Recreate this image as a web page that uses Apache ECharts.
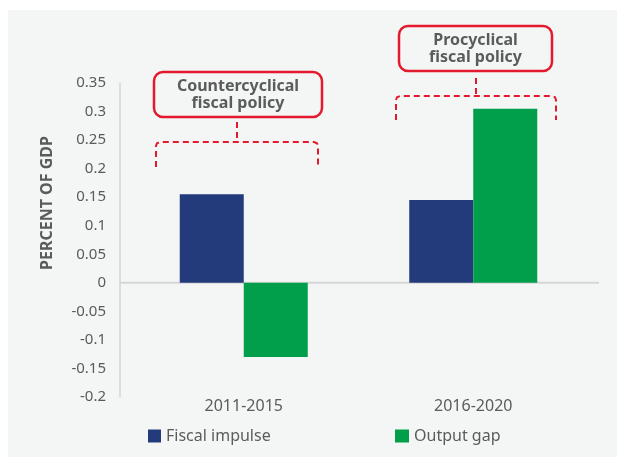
<!DOCTYPE html>
<html>
<head>
<meta charset="utf-8">
<script src="https://cdn.jsdelivr.net/npm/echarts@6/dist/echarts.min.js"></script>
<style>
  html, body { margin: 0; padding: 0; background: #ffffff; }
  #chart { width: 617px; height: 457px; }
</style>
</head>
<body>
<div id="chart"></div>
<script>
// Periods and values (percent of GDP)
const categories = ['2011-2015', '2016-2020'];
const fiscalImpulse = [0.155, 0.145];
const outputGap = [-0.13, 0.305];
const yTicks = { min: -0.2, max: 0.35, step: 0.05 };

const FONT = '"Noto Sans", sans-serif';
const TEXT = '#5b5b5b';
const RED = '#e3192d';
const NAVY = '#233a7b';
const GREEN = '#019e4b';

const chart = echarts.init(document.getElementById('chart'), null, { renderer: 'canvas' });

// Dashed bracket with softened corners and a stub rising to the label box
function dashedBracket(x1, x2, yTop, yBottom, cx, stubTop) {
  const r = 4;
  return [
    {
      type: 'polyline', silent: true,
      shape: {
        points: [
          [x1, yBottom], [x1, yTop + r], [x1 + 1, yTop + 1.2], [x1 + r, yTop],
          [x2 - r, yTop], [x2 - 1, yTop + 1.2], [x2, yTop + r], [x2, yBottom]
        ]
      },
      style: { fill: null, stroke: RED, lineWidth: 2, lineDash: [6, 4] }
    },
    {
      type: 'line', silent: true,
      shape: { x1: cx, y1: stubTop, x2: cx, y2: yTop },
      style: { stroke: RED, lineWidth: 2, lineDash: [6, 4] }
    }
  ];
}

function labelBox(x, y, w, h, lines) {
  return [
    {
      type: 'rect', silent: true,
      shape: { x: x, y: y, width: w, height: h, r: 9 },
      style: { fill: '#f4f6f5', stroke: RED, lineWidth: 2.5 }
    },
    {
      type: 'text', silent: true,
      x: x + w / 2,
      y: y + h / 2,
      style: {
        text: lines.join('\n'),
        font: 'bold 16px ' + FONT,
        fill: TEXT,
        align: 'center',
        verticalAlign: 'middle',
        lineHeight: 17
      }
    }
  ];
}

const option = {
  backgroundColor: '#ffffff',
  animation: false,
  grid: { left: 129, right: 29, top: 83, bottom: 60, containLabel: false },
  xAxis: {
    type: 'category',
    data: categories,
    axisLine: { show: false },
    axisTick: { show: false },
    axisLabel: { color: TEXT, fontSize: 16, fontFamily: FONT, margin: 1 },
    splitLine: { show: false }
  },
  yAxis: {
    type: 'value',
    min: yTicks.min,
    max: yTicks.max,
    interval: yTicks.step,
    offset: 9,
    axisLine: { show: true, lineStyle: { color: '#d4d4d4', width: 1.5 } },
    axisTick: { show: false },
    splitLine: { show: false },
    axisLabel: {
      color: TEXT, fontSize: 15, fontFamily: FONT, margin: 14,
      formatter: v => String(parseFloat(v.toFixed(2)))
    }
  },
  legend: [
    {
      left: 143, top: 423, itemWidth: 13, itemHeight: 13, icon: 'rect',
      data: ['Fiscal impulse'],
      textStyle: { color: TEXT, fontSize: 16, fontFamily: FONT }
    },
    {
      left: 390, top: 423, itemWidth: 14, itemHeight: 13, icon: 'rect',
      data: ['Output gap'],
      textStyle: { color: TEXT, fontSize: 16, fontFamily: FONT }
    }
  ],
  series: [
    {
      name: 'Fiscal impulse',
      type: 'bar',
      data: fiscalImpulse,
      barWidth: 64,
      barGap: '0%',
      itemStyle: { color: NAVY }
    },
    {
      name: 'Output gap',
      type: 'bar',
      data: outputGap,
      barWidth: 64,
      itemStyle: { color: GREEN }
    }
  ]
};

chart.setOption(option);

// Zero baseline spans the full plotting panel, slightly wider than the category band
const y0 = chart.convertToPixel({ yAxisIndex: 0 }, 0);

chart.setOption({
  graphic: [
    {
      type: 'rect', z: -10, silent: true,
      shape: { x: 8, y: 10, width: 609, height: 447 },
      style: { fill: '#f4f6f5' }
    },
    {
      type: 'line', z: 1, silent: true,
      shape: { x1: 120, y1: y0, x2: 599, y2: y0 },
      style: { stroke: '#d6d6d6', lineWidth: 2 }
    },
    {
      type: 'text', silent: true,
      x: 47, y: 203, rotation: Math.PI / 2,
      style: {
        text: 'PERCENT OF GDP',
        font: 'bold 16px ' + FONT,
        fill: TEXT,
        align: 'center',
        verticalAlign: 'middle'
      }
    },
    ...labelBox(154, 72, 168, 45, ['Countercyclical', 'fiscal policy']),
    ...dashedBracket(156, 318, 142, 167, 237, 122),
    ...labelBox(399, 26, 153, 45, ['Procyclical', 'fiscal policy']),
    ...dashedBracket(396, 556, 96, 120, 476, 78)
  ]
});
</script>
</body>
</html>
